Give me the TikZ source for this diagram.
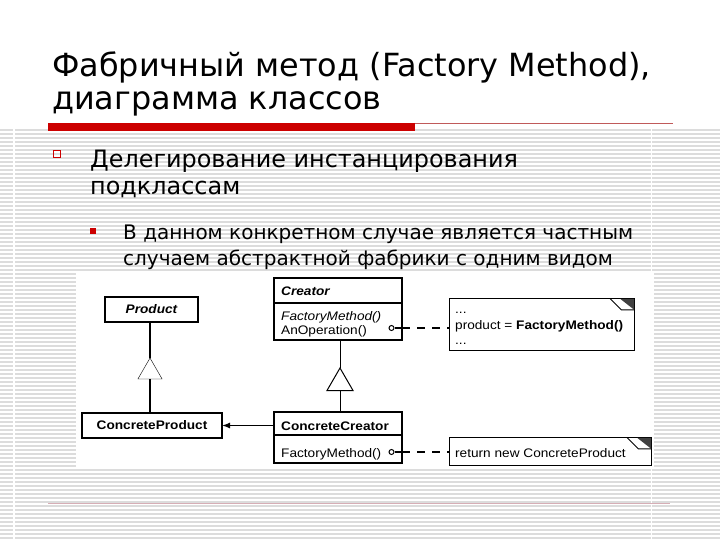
\documentclass[tikz,border=0pt]{standalone}
\usepackage{fontspec}
\setmainfont{DejaVu Sans}
\newfontfamily\diag[FakeStretch=1.1]{Liberation Sans}
\usetikzlibrary{arrows.meta,shapes.geometric,calc}
\definecolor{slidered}{HTML}{CC0000}
\definecolor{stripegray}{HTML}{DCDCDC}
\definecolor{thinred}{HTML}{C05A5A}
\definecolor{pinkline}{HTML}{D6AEB6}
\begin{document}
\begin{tikzpicture}[x=1pt,y=-1pt,
  box/.style={draw,line width=1.3pt,inner sep=0pt,outer sep=0pt,fill=white},
  lbl/.style={font=\diag\fontsize{12.4}{14}\selectfont,inner sep=0pt,anchor=base west},
  clsname/.style={font=\diag\fontsize{12.4}{14}\selectfont\bfseries},
  tri/.style={draw,fill=white,regular polygon,regular polygon sides=3,inner sep=0pt,outer sep=0pt},
  dep/.style={line width=1.2pt,dash pattern=on 8pt off 7pt},
  stub/.style={draw,circle,line width=1pt,minimum size=5pt,inner sep=0pt,fill=white},
  titletext/.style={anchor=base west,inner sep=0pt,font=\fontsize{31.9}{36}\selectfont},
  lvlone/.style={anchor=base west,inner sep=0pt,font=\fontsize{23.9}{27}\selectfont},
  lvltwo/.style={anchor=base west,inner sep=0pt,font=\fontsize{20}{24}\selectfont}]
\useasboundingbox (0,0) rectangle (720,540);
\fill[white] (0,0) rectangle (720,540);
% striped background
\foreach \y in {130,134,...,538} \draw[stripegray,line width=1.4pt] (0,\y) -- (720,\y);
\fill[white] (13.3,127) rectangle (14.8,540);
\fill[white] (650.5,127) rectangle (652,540);
% title
\node[titletext] (t1) at (52,77) {Фабричный метод (Factory Method),};
\node[titletext] (t2) at (52,110) {диаграмма классов};
\fill[slidered] (48,123) rectangle (415,131);
\draw[thinred,line width=0.8pt] (415,123.4) -- (673,123.4);
\draw[pinkline,line width=0.9pt] (48,503) -- (670,503);
% bullets
\draw[slidered,line width=1.3pt] (53.5,150.5) rectangle (60.5,157.5);
\node[lvlone] (b1a) at (90,168) {Делегирование инстанцирования};
\node[lvlone] (b1b) at (90,195) {подклассам};
\fill[slidered] (90,228) rectangle (96,234);
\node[lvltwo] (b2a) at (123,240) {В данном конкретном случае является частным};
\node[lvltwo] (b2b) at (123,265) {случаем абстрактной фабрики с одним видом};
% diagram panel
\fill[white] (76,273) rectangle (654,468);
% classes
\node[box,minimum width=93,minimum height=25,clsname] (product) at (151.5,309.5) {\itshape Product};
\node[box,minimum width=140,minimum height=25,clsname] (cprod) at (152,425.5) {ConcreteProduct};
\node[box,minimum width=128,minimum height=62] (creator) at (338,309) {};
\draw[line width=1.3pt] ($(creator.north west)+(0,25)$) -- ($(creator.north east)+(0,25)$);
\node[lbl,font=\diag\fontsize{12.4}{14}\selectfont\bfseries\itshape] (crname) at (281,295.5) {Creator};
\node[lbl,font=\diag\fontsize{12.4}{14}\selectfont\itshape] (crfm) at (281,320) {FactoryMethod()};
\node[lbl] (crop) at (281,334) {AnOperation()};
\node[box,minimum width=128,minimum height=51] (ccreator) at (338,437.5) {};
\draw[line width=1.3pt] ($(ccreator.north west)+(0,23)$) -- ($(ccreator.north east)+(0,23)$);
\node[lbl,font=\diag\fontsize{12.4}{14}\selectfont\bfseries] (ccname) at (281,430) {ConcreteCreator};
\node[lbl] (ccfm) at (281,457) {FactoryMethod()};
% inheritance
\node[tri,minimum size=28pt] (tri1) at (150,372) {};
\draw[line width=1.3pt] (product.south -| tri1.north) -- (tri1.north);
\draw[line width=1.3pt] (tri1.south) -- (tri1.south |- cprod.north);
\node[tri,line width=1pt,minimum size=30pt] (tri2) at (340,383) {};
\draw[line width=0.9pt] (creator.south -| tri2.north) -- (tri2.north);
\draw[line width=0.9pt] (tri2.south) -- (tri2.south |- ccreator.north);
% creation arrow
\draw[line width=1.3pt,-{Latex[length=8pt,width=6pt]}] (ccreator.west |- cprod.east) -- (cprod.east);
% notes
\node[inner sep=0pt,minimum width=184,minimum height=51] (note1) at (542,324.5) {};
\node[inner sep=0pt,minimum width=201,minimum height=27] (note2) at (550.5,451.5) {};
\foreach \n in {note1,note2}{
  \draw[line width=1.3pt,fill=white] (\n.north west) rectangle (\n.south east);
  \fill[black!75] ($(\n.north east)+(-14,0)$) -- (\n.north east) -- ($(\n.north east)+(0,11)$) -- cycle;
  \draw[line width=0.9pt] ($(\n.north east)+(-24,0)$) -- ($(\n.north east)+(-13,11)$) -- ($(\n.north east)+(0,11)$);
}
\node[lbl] (n1a) at (455,313) {...};
\node[lbl] (n1b) at (455,329) {product = {\bfseries FactoryMethod()}};
\node[lbl] (n1c) at (455,344) {...};
\node[lbl] (n2a) at (455,457) {return new ConcreteProduct};
% stubs and dependency lines
\node[stub] (s1) at (391.5,328) {};
\node[stub] (s2) at (391.5,452) {};
\draw[line width=1.2pt] (s1.east) -- (s1 -| creator.east);
\draw[line width=1.2pt] (s2.east) -- (s2 -| ccreator.east);
\draw[dep] (s1 -| creator.east) -- (s1 -| note1.west);
\draw[dep] (s2 -| ccreator.east) -- (s2 -| note2.west);
\end{tikzpicture}
\end{document}
